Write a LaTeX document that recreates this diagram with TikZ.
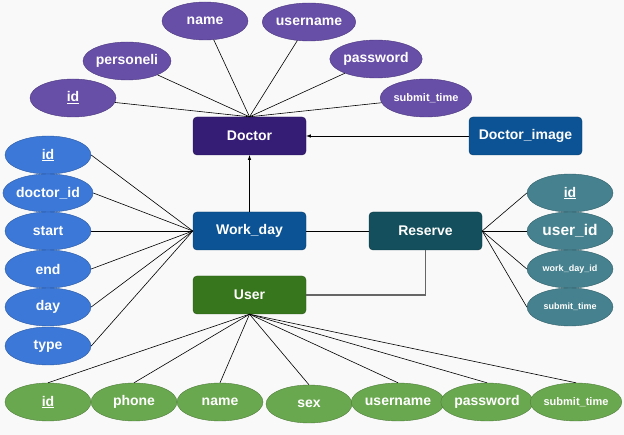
\documentclass[tikz,border=0pt]{standalone}
\usepackage{fontspec}
\setmainfont{Liberation Sans}
\usetikzlibrary{shapes,arrows,positioning,backgrounds}

\definecolor{bgcol}{HTML}{F9F9FA}
\definecolor{doccol}{HTML}{351C75}
\definecolor{bluecol}{HTML}{0B5394}
\definecolor{usrcol}{HTML}{38761D}
\definecolor{rescol}{HTML}{134F5C}
\definecolor{docattr}{HTML}{674EA7}
\definecolor{wdattr}{HTML}{3C78D8}
\definecolor{resattr}{HTML}{45818E}
\definecolor{usrattr}{HTML}{6AA84F}

\begin{document}
\begin{tikzpicture}[x=1pt,y=-1pt]
			\tikzstyle{Entity} 	= [rectangle, rounded corners=4pt, draw, minimum width=113pt, minimum height=38pt, inner sep=0pt, text=white, font=\fontsize{14}{16}\selectfont\bfseries]
			\tikzstyle{Attr}	= [ellipse, draw, minimum width=86pt, minimum height=38pt, inner sep=0pt, text=white, font=\fontsize{14}{16}\selectfont\bfseries]
			\tikzstyle{Small}	= [font=\fontsize{11}{13}\selectfont\bfseries]
			\tikzstyle{Tiny}	= [font=\fontsize{9}{11}\selectfont\bfseries]
			\tikzstyle{Big}		= [font=\fontsize{15.5}{17}\selectfont\bfseries]
			\tikzstyle{DocA}	= [fill=docattr, draw=docattr!75!black]
			\tikzstyle{WdA}		= [fill=wdattr, draw=wdattr!75!black]
			\tikzstyle{ResA}	= [fill=resattr, draw=resattr!75!black]
			\tikzstyle{UsrA}	= [fill=usrattr, draw=usrattr!75!black]
			\tikzstyle{Link}	= [black, line width=0.6pt]
			\tikzstyle{Rel}		= [black!60, line width=1.1pt]

			\fill [bgcol] (0,0) rectangle (624,435);

			% entities
			\node (doc) at (249.5,136) [Entity][fill=doccol, draw=doccol!70!black] {Doctor};
			\node (docimg) at (525.5,136) [Entity][fill=bluecol, draw=bluecol!70!black] {Doctor\_image};
			\node (wd) at (249.5,231) [Entity][fill=bluecol, draw=bluecol!70!black] {Work\_day};
			\node (res) at (425.5,231) [Entity][fill=rescol, draw=rescol!70!black] {Reserve};
			\node (usr) at (249.5,295) [Entity][fill=usrcol, draw=usrcol!70!black] {User};

			% doctor attributes
			\node (da1) at (73,98) [Attr][DocA] {\underline{id}};
			\node (da2) at (127,61) [Attr][DocA] {personeli};
			\node (da3) at (205,21) [Attr][DocA] {name};
			\node (da4) at (309,22) [Attr][DocA] {username};
			\node (da5) at (376,59) [Attr][DocA] {password};
			\node (da6) at (426,98) [Attr][DocA][Small] {submit\_time};

			% work_day attributes
			\node (wa1) at (48,155) [Attr][WdA] {\underline{id}};
			\node (wa2) at (48,193) [Attr][WdA] {doctor\_id};
			\node (wa3) at (48,231) [Attr][WdA] {start};
			\node (wa4) at (48,269) [Attr][WdA] {end};
			\node (wa5) at (48,307) [Attr][WdA] {day};
			\node (wa6) at (48,346) [Attr][WdA] {type};

			% reserve attributes
			\node (ra1) at (570,193) [Attr][ResA] {\underline{id}};
			\node (ra2) at (570,231) [Attr][ResA][Big] {user\_id};
			\node (ra3) at (570,269) [Attr][ResA][Tiny] {work\_day\_id};
			\node (ra4) at (570,307) [Attr][ResA][Tiny] {submit\_time};

			% user attributes
			\node (ua1) at (48,402) [Attr][UsrA] {\underline{id}};
			\node (ua2) at (134,402) [Attr][UsrA] {phone};
			\node (ua3) at (220,402) [Attr][UsrA] {name};
			\node (ua4) at (309,404) [Attr][UsrA] {sex};
			\node (ua5) at (398,402) [Attr][UsrA] {username};
			\node (ua6) at (487,402) [Attr][UsrA] {password};
			\node (ua7) at (576,402) [Attr][UsrA][Small] {submit\_time};

			% relations
			\draw [-latex] (wd) to (doc) [Link];
			\draw [-latex] (docimg) to (doc) [Link];
			\draw [-] (wd) to (res) [Link];
			\draw [-] (res.south) |- (usr.east) [Rel];

			\draw [-] (da1) to (doc.north) [Link];
			\draw [-] (da2) to (doc.north) [Link];
			\draw [-] (da3) to (doc.north) [Link];
			\draw [-] (da4) to (doc.north) [Link];
			\draw [-] (da5) to (doc.north) [Link];
			\draw [-] (da6) to (doc.north) [Link];

			\draw [-] (wa1.east) to (wd.west) [Link];
			\draw [-] (wa2.east) to (wd.west) [Link];
			\draw [-] (wa3.east) to (wd.west) [Link];
			\draw [-] (wa4.east) to (wd.west) [Link];
			\draw [-] (wa5.east) to (wd.west) [Link];
			\draw [-] (wa6.east) to (wd.west) [Link];

			\draw [-] (res.east) to (ra1.west) [Link];
			\draw [-] (res.east) to (ra2.west) [Link];
			\draw [-] (res.east) to (ra3.west) [Link];
			\draw [-] (res.east) to (ra4.west) [Link];

			\draw [-] (usr.south) to (ua1.north) [Link];
			\draw [-] (usr.south) to (ua2.north) [Link];
			\draw [-] (usr.south) to (ua3.north) [Link];
			\draw [-] (usr.south) to (ua4.north) [Link];
			\draw [-] (usr.south) to (ua5.north) [Link];
			\draw [-] (usr.south) to (ua6.north) [Link];
			\draw [-] (usr.south) to (ua7.north) [Link];
		\end{tikzpicture}
\end{document}
